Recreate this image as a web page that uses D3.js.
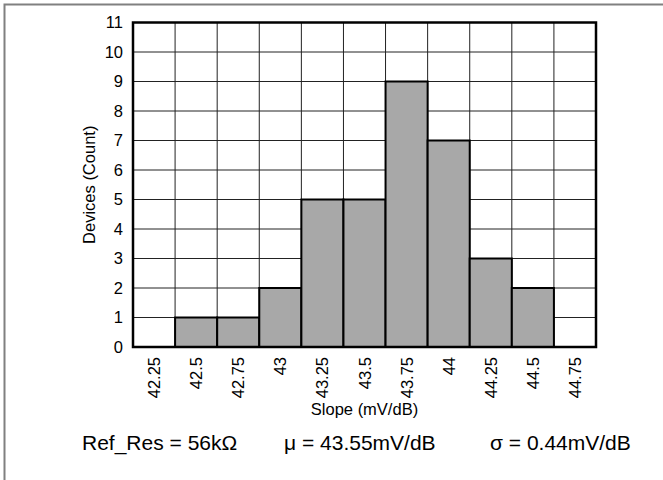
<!DOCTYPE html>
<html><head><meta charset="utf-8">
<script src="https://cdn.jsdelivr.net/npm/d3@7"></script>
<style>body{margin:0;background:#fff;} svg{display:block;font-family:Arial,"Liberation Sans",sans-serif;}</style>
</head><body>
<script>
const categories = ["42.25","42.5","42.75","43","43.25","43.5","43.75","44","44.25","44.5","44.75"];
const counts = [0,1,1,2,5,5,9,7,3,2,0];
const yTicks = [0,1,2,3,4,5,6,7,8,9,10,11];
const annotations = ["Ref_Res = 56kΩ","μ = 43.55mV/dB","σ = 0.44mV/dB"];
const annotX = [82,284,490];

const W=663,H=480;
const svg=d3.select("body").append("svg").attr("width",W).attr("height",H);
const L=133,R=596,T=22.5,B=347;
const x=d3.scaleBand().domain(categories).range([L,R]).padding(0);
const y=d3.scaleLinear().domain([0,11]).range([B,T]);

// outer frame
svg.append("path").attr("d",`M4.5,${H}V4.5H${W}`).attr("fill","none").attr("stroke","#808080").attr("stroke-width",2);

// grid
const g=svg.append("g");
g.selectAll("line.h").data(yTicks).enter().append("line")
 .attr("x1",L).attr("x2",R).attr("y1",d=>y(d)).attr("y2",d=>y(d)).attr("stroke","#222").attr("stroke-width",1);
g.selectAll("line.v").data(categories).enter().append("line")
 .attr("x1",d=>x(d)).attr("x2",d=>x(d)).attr("y1",T).attr("y2",B).attr("stroke","#222").attr("stroke-width",1);

// bars
svg.selectAll("rect.bar").data(counts.map((c,i)=>({c,k:categories[i]})).filter(d=>d.c>0)).enter().append("rect")
 .attr("x",d=>x(d.k)).attr("width",x.bandwidth()).attr("y",d=>y(d.c)).attr("height",d=>B-y(d.c))
 .attr("fill","#a8a8a8").attr("stroke","#000").attr("stroke-width",2);

// axis frame
svg.append("rect").attr("x",L).attr("y",T).attr("width",R-L).attr("height",B-T).attr("fill","none").attr("stroke","#000").attr("stroke-width",2.5);

// y tick labels
svg.selectAll("text.yt").data(yTicks).enter().append("text")
 .attr("x",L-10).attr("y",d=>y(d)).attr("dy","0.35em").attr("text-anchor","end")
 .attr("font-size",16.5).attr("fill","#000").text(d=>d);

// x tick labels
svg.selectAll("text.xt").data(categories).enter().append("text")
 .attr("transform",d=>`translate(${x(d)+x.bandwidth()/2+6},357) rotate(-90)`)
 .attr("text-anchor","end").attr("font-size",16.5).attr("fill","#000").text(d=>d);

// axis titles
svg.append("text").attr("x",(L+R)/2).attr("y",415).attr("text-anchor","middle").attr("font-size",16.5).text("Slope (mV/dB)");
svg.append("text").attr("transform",`translate(95,${(T+B)/2}) rotate(-90)`).attr("text-anchor","middle").attr("font-size",16.5).text("Devices (Count)");

// annotations
svg.selectAll("text.an").data(annotations).enter().append("text")
 .attr("x",(d,i)=>annotX[i]).attr("y",450).attr("font-size",21).attr("fill","#000").text(d=>d);
</script>
</body></html>
